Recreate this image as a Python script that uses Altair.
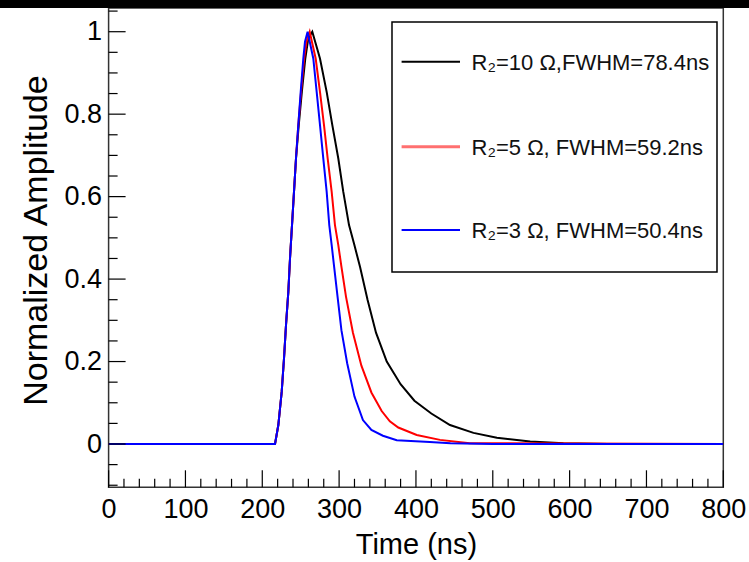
import altair as alt
import pandas as pd

# ---------------- data ----------------
series_names = ["R₂=10 Ω,FWHM=78.4ns", "R₂=5 Ω, FWHM=59.2ns", "R₂=3 Ω, FWHM=50.4ns"]
line_colors = ["#000000", "#ff0000", "#0000ff"]
legend_colors = ["#000000", "#ff7070", "#0000ff"]

t_black = [0, 216.6, 220.9, 225.3, 228.3, 230.9, 233.9, 236.1, 238.7, 241.3, 243.9,
           247.5, 251.5, 256, 259.9, 265.1, 275.1, 283.8, 291.1, 298.9, 305.4, 312.9,
           319.8, 327.2, 337, 348, 362, 380, 398, 420, 444.3, 474.9, 505.3, 548.7, 592,
           650, 800]
a_black = [0, 0, 0.046, 0.127, 0.208, 0.289, 0.369, 0.45, 0.531, 0.612, 0.693,
           0.774, 0.854, 0.935, 0.984, 1.0, 0.935, 0.854, 0.774, 0.693, 0.612, 0.531,
           0.483, 0.43, 0.35, 0.27, 0.2, 0.145, 0.105, 0.074, 0.046, 0.027, 0.015,
           0.006, 0.002, 0, 0]

t_red = [0, 216.6, 220.9, 225.3, 228.3, 230.9, 233.9, 236.1, 238.7, 241.3, 243.9, 246.9,
         250.5, 254.5, 257.5, 261.7, 269.5, 275.1, 280.3, 285.1, 290.3, 294.6, 298.9,
         303, 309, 318, 329, 342, 355.4, 366, 377, 401, 431.3, 470, 800]
a_red = [0, 0, 0.046, 0.127, 0.208, 0.289, 0.369, 0.45, 0.531, 0.612, 0.693, 0.774,
         0.854, 0.935, 0.976, 1.0, 0.935, 0.854, 0.774, 0.693, 0.612, 0.531, 0.483,
         0.43, 0.357, 0.27, 0.19, 0.125, 0.08, 0.055, 0.04, 0.022, 0.01, 0.002, 0]

t_blue = [0, 216.6, 220.9, 225.3, 228.3, 230.9, 233.9, 236.1, 238.7, 241.3, 243.9, 246.9,
          250, 253.4, 255.6, 259, 266.4, 270.8, 275.1, 279.4, 283.8, 287.2, 290.3,
          293.5, 298, 303, 310.5, 320, 331, 342, 357, 375, 418, 445, 500, 800]
a_blue = [0, 0, 0.046, 0.127, 0.208, 0.289, 0.369, 0.45, 0.531, 0.612, 0.693, 0.774,
          0.854, 0.935, 0.976, 1.0, 0.935, 0.854, 0.774, 0.693, 0.612, 0.531, 0.483,
          0.43, 0.357, 0.276, 0.196, 0.115, 0.058, 0.034, 0.02, 0.009, 0.005, 0.002,
          0, 0]

x_major = [0, 100, 200, 300, 400, 500, 600, 700, 800]
x_minor = [v for v in range(20, 800, 20) if v % 100]
y_major = [0, 0.2, 0.4, 0.6, 0.8, 1.0]
y_minor = [-0.1, -0.05, 0.05, 0.1, 0.15, 0.25, 0.3, 0.35, 0.45, 0.5, 0.55,
           0.65, 0.7, 0.75, 0.85, 0.9, 0.95, 1.05]

# ---------------- layout ----------------
W = 614.7
H = 479.3
FONT = "Liberation Sans"
xs = alt.Scale(domain=[0, 800], nice=False, zero=False)
ys = alt.Scale(domain=[-0.105, 1.0575], nice=False, zero=False)

x_axis = alt.Axis(
    values=x_major, format="d", title="Time (ns)", ticks=False, tickSize=0,
    domain=False, grid=False, labelFontSize=27, labelPadding=9,
    labelFlush=False, labelOverlap=False, labelBound=False,
    labelColor="#000", labelFont=FONT, titleFont=FONT, titleFontSize=29,
    titleFontWeight="normal", titleColor="#000", titleY=57, titleBaseline="middle")
y_axis = alt.Axis(
    values=y_major, format=".1~f", title="Normalized Amplitude", ticks=False,
    tickSize=0, domain=False, grid=False, labelFontSize=27, labelPadding=7,
    labelFlush=False, labelOverlap=False,
    labelColor="#000", labelFont=FONT, titleFont=FONT, titleFontSize=34,
    titleFontWeight="normal", titleColor="#000", titleX=-72, titleY=232,
    titleAngle=270, titleAlign="center", titleBaseline="middle")

series_data = [(t_black, a_black), (t_red, a_red), (t_blue, a_blue)]

layers = []
for i, (t, a) in enumerate(series_data):
    df = pd.DataFrame({"t": t, "amp": a})
    layers.append(
        alt.Chart(df).mark_line(color=line_colors[i], strokeWidth=2, clip=True)
        .encode(x=alt.X("t:Q", scale=xs, axis=x_axis),
                y=alt.Y("amp:Q", scale=ys, axis=y_axis))
    )

# inward ticks (ROOT style)
for vals, length in [(x_major, 17), (x_minor, 8.5)]:
    layers.append(
        alt.Chart(pd.DataFrame({"t": vals})).mark_rule(color="#000", strokeWidth=1.2)
        .encode(x=alt.X("t:Q", scale=xs, axis=x_axis),
                y=alt.value(H), y2=alt.value(H - length))
    )
for vals, length in [(y_major, 17), (y_minor, 9)]:
    layers.append(
        alt.Chart(pd.DataFrame({"amp": vals})).mark_rule(color="#000", strokeWidth=1.2)
        .encode(y=alt.Y("amp:Q", scale=ys, axis=y_axis),
                x=alt.value(0), x2=alt.value(length))
    )

# legend box
one = pd.DataFrame({"k": [0]})
layers.append(
    alt.Chart(one).mark_rect(fillOpacity=0, stroke="#000", strokeWidth=1.5)
    .encode(x=alt.value(283.4), x2=alt.value(608.4), y=alt.value(14), y2=alt.value(264))
)
row_y = [53.7, 138.7, 222]
for i, name in enumerate(series_names):
    layers.append(
        alt.Chart(one).mark_rule(color=legend_colors[i], strokeWidth=3 if i == 1 else 2)
        .encode(x=alt.value(293), x2=alt.value(351.4), y=alt.value(row_y[i]))
    )
    layers.append(
        alt.Chart(one).mark_text(text=name, align="left", baseline="middle",
                                 fontSize=22, font=FONT, color="#111")
        .encode(x=alt.value(363), y=alt.value(row_y[i] + 1.5))
    )

chart = alt.layer(*layers).properties(
    width=W, height=H,
    background="white",
    autosize=alt.AutoSizeParams(type="none"),
    padding={"left": 108.6, "top": 0, "right": 25, "bottom": 73},
).configure_view(stroke="#333", strokeWidth=1.5)

chart.save("out.html", embed_options={
    "renderer": "svg", "actions": False,
    "defaultStyle": "body{margin:0;border-top:8px solid #000;}"})
